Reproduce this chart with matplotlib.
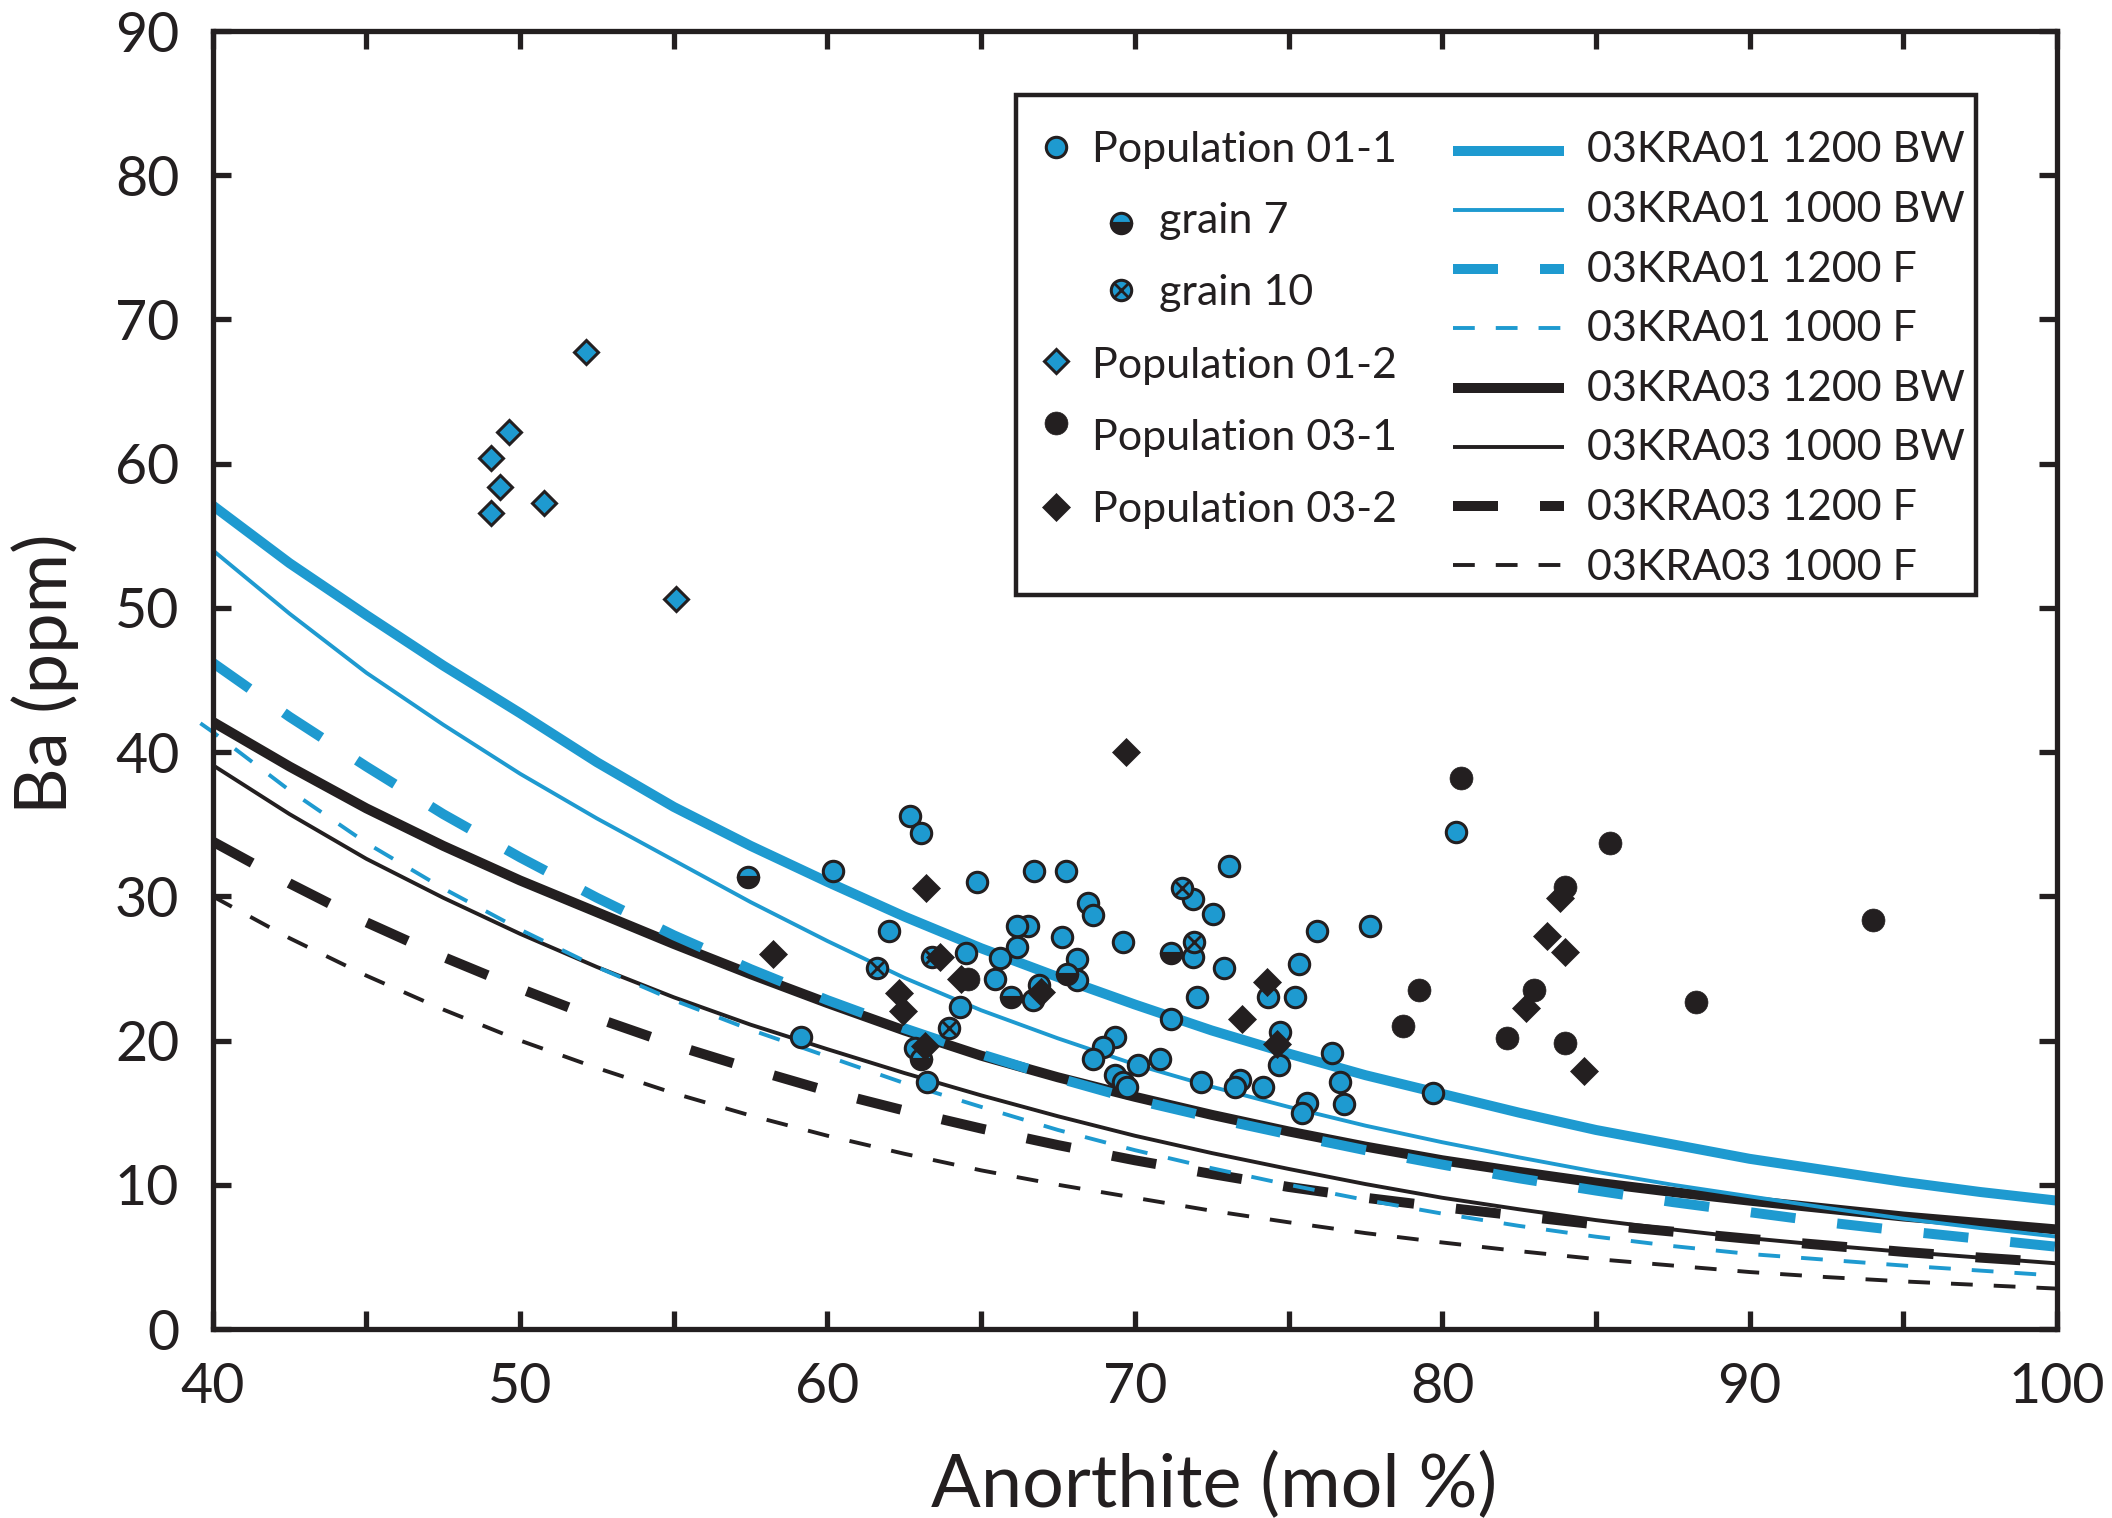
import numpy as np
import matplotlib
matplotlib.use('Agg')
import matplotlib.pyplot as plt
from matplotlib.patches import Rectangle

plt.rcParams['font.family'] = ['Lato', 'DejaVu Sans']

BLUE = '#1E9AD0'
BLACK = '#231F20'

an_grid = [40, 42.5, 45, 47.5, 50, 52.5, 55, 57.5, 60, 62.5, 65, 67.5, 70,
           72.5, 75, 77.5, 80, 82.5, 85, 87.5, 90, 92.5, 95, 97.5, 100]
kra01_1200_bw = [57.1, 53.1, 49.5, 46.0, 42.7, 39.3, 36.2, 33.5, 31.0, 28.6, 26.4, 24.4, 22.5,
                 20.7, 19.1, 17.6, 16.3, 15.0, 13.8, 12.8, 11.8, 11.0, 10.2, 9.5, 8.9]
kra01_1000_bw = [54.0, 49.6, 45.5, 41.9, 38.5, 35.4, 32.5, 29.6, 26.9, 24.35, 22.1, 20.15, 18.35,
                 16.8, 15.4, 14.1, 12.95, 11.9, 10.9, 10.0, 9.2, 8.4, 7.65, 7.0, 6.4]
kra01_1200_f = [46.2, 42.45, 39.0, 35.7, 32.7, 29.9, 27.3, 24.95, 22.8, 20.85, 19.05, 17.4, 15.9,
                14.65, 13.5, 12.4, 11.4, 10.45, 9.6, 8.8, 8.1, 7.4, 6.8, 6.25, 5.7]
kra01_1000_f_an = [39.6] + an_grid
kra01_1000_f = [42.0, 41.4, 37.35, 33.7, 30.55, 27.7, 25.1, 22.8, 20.75, 18.9, 17.05, 15.4, 13.8,
                12.4, 11.15, 10.0, 8.95, 8.0, 7.15, 6.4, 5.75, 5.2, 4.8, 4.4, 4.05, 3.7]
kra03_1200_bw = [42.1, 39.0, 36.1, 33.5, 31.1, 28.9, 26.7, 24.6, 22.6, 20.7, 18.95, 17.45, 16.1,
                 14.85, 13.7, 12.65, 11.7, 10.9, 10.15, 9.5, 8.9, 8.35, 7.8, 7.35, 6.9]
kra03_1000_bw = [39.1, 35.7, 32.6, 29.9, 27.4, 25.1, 23.0, 21.1, 19.4, 17.75, 16.2, 14.75, 13.4,
                 12.2, 11.1, 10.05, 9.1, 8.3, 7.55, 6.9, 6.3, 5.8, 5.35, 4.95, 4.55]
kra03_1200_f = [33.8, 30.9, 28.2, 25.8, 23.6, 21.55, 19.7, 18.05, 16.5, 15.15, 13.9, 12.75, 11.7,
                10.75, 9.85, 9.1, 8.45, 7.85, 7.25, 6.75, 6.25, 5.8, 5.35, 4.95, 4.6]
kra03_1000_f = [30.0, 27.1, 24.5, 22.15, 20.0, 18.1, 16.35, 14.8, 13.4, 12.15, 11.0, 10.0, 9.1,
                8.2, 7.4, 6.65, 6.0, 5.4, 4.85, 4.4, 3.95, 3.6, 3.3, 3.05, 2.8]

# Population 01-1
pop011_an = [62.68, 63.05, 60.17, 64.87, 66.71, 67.76, 68.46, 68.63, 61.99, 66.53,
             66.16, 67.62, 69.62, 66.16, 64.52, 65.61, 68.11, 68.11, 65.44, 66.7,
             66.89, 64.32, 59.15, 62.85, 63.23, 69.35, 68.97, 68.63, 70.11, 69.35,
             69.62, 69.73, 80.46, 73.07, 71.9, 72.53, 75.93, 77.65, 71.9, 72.89,
             75.34, 74.34, 75.21, 72.03, 71.18, 74.72, 74.7, 76.42, 70.82, 72.16,
             73.42, 73.26, 74.16, 76.66, 75.59, 75.43, 76.8, 79.71]
pop011_ba = [35.6, 34.4, 31.76, 30.98, 31.76, 31.76, 29.52, 28.71, 27.58, 27.97,
             27.97, 27.21, 26.84, 26.46, 26.05, 25.69, 25.66, 24.2, 24.27, 22.8,
             23.86, 22.3, 20.27, 19.51, 17.15, 20.27, 19.58, 18.72, 18.31, 17.61,
             17.15, 16.8, 34.44, 32.13, 29.82, 28.76, 27.6, 27.97, 25.82, 25.06,
             25.29, 23.05, 23.05, 23.05, 21.5, 20.57, 18.31, 19.12, 18.72, 17.15,
             17.27, 16.76, 16.76, 17.15, 15.7, 14.96, 15.6, 16.39]
grain7_an = [57.42, 67.79, 65.97, 63.05, 71.17]
grain7_ba = [31.37, 24.62, 23.05, 18.7, 26.05]
grain10_an = [61.62, 63.95, 71.53, 71.92, 63.40]
grain10_ba = [25.06, 20.9, 30.56, 26.84, 25.80]

# Population 01-2
pop012_an = [52.13, 49.64, 49.05, 49.35, 49.05, 50.77, 55.06]
pop012_ba = [67.73, 62.18, 60.36, 58.39, 56.61, 57.24, 50.65]

# Population 03-1
pop031_an = [64.57, 78.71, 79.25, 80.6, 82.12, 83.0, 84.01, 84.01, 85.47, 88.24, 94.0]
pop031_ba = [24.25, 21.03, 23.5, 38.2, 20.16, 23.5, 30.63, 19.86, 33.68, 22.7, 28.36]

# Population 03-2
pop032_an = [58.22, 62.34, 62.47, 63.19, 63.66, 63.17, 64.34, 66.95, 69.7, 73.47,
             74.31, 74.61, 82.71, 83.42, 83.82, 84.01, 84.61]
pop032_ba = [26.0, 23.33, 22.05, 30.56, 25.78, 19.65, 24.3, 23.4, 40.0, 21.48,
             24.09, 19.74, 22.24, 27.25, 29.87, 26.17, 17.92]

W, H = 2112, 1518
fig = plt.figure(figsize=(W / 100, H / 100), dpi=100)
X0, X1, YB, YT = 212.7, 2057.0, 1329.0, 31.0
ax = fig.add_axes([X0 / W, 1 - YB / H, (X1 - X0) / W, (YB - YT) / H])

THICK, THIN = 7.2, 2.8
line_styles = [
    (an_grid, kra03_1200_bw, BLACK, THICK, None, '03KRA03 1200 BW'),
    (an_grid, kra03_1000_bw, BLACK, THIN, None, '03KRA03 1000 BW'),
    (an_grid, kra03_1200_f, BLACK, THICK, (4.5, 4.2), '03KRA03 1200 F'),
    (an_grid, kra03_1000_f, BLACK, THIN, (5.6, 5.4), '03KRA03 1000 F'),
    (an_grid, kra01_1200_bw, BLUE, THICK, None, '03KRA01 1200 BW'),
    (an_grid, kra01_1000_bw, BLUE, THIN, None, '03KRA01 1000 BW'),
    (an_grid, kra01_1200_f, BLUE, THICK, (4.5, 4.2), '03KRA01 1200 F'),
    (kra01_1000_f_an, kra01_1000_f, BLUE, THIN, (5.6, 5.4), '03KRA01 1000 F'),
]
for xs, ys, c, lw, dash, lab in line_styles:
    ln, = ax.plot(xs, ys, color=c, lw=lw, solid_capstyle='butt', zorder=2)
    if dash is not None:
        ln.set_dashes(dash)
    if xs[0] < 40:
        ln.set_clip_on(False)

MS, MEW = 14.7, 2.2
circ = dict(marker='o', ms=MS, mec=BLACK, mew=MEW, ls='none')
ax.plot(pop011_an, pop011_ba, mfc=BLUE, zorder=4, **circ)
ax.plot(grain7_an, grain7_ba, mfc=BLUE, fillstyle='top', markerfacecoloralt=BLACK, zorder=5, **circ)
ax.plot(grain10_an, grain10_ba, mfc=BLUE, zorder=5, **circ)
ax.plot(grain10_an, grain10_ba, marker='x', ms=10.4, mew=2.0, color=BLACK, ls='none', zorder=5)
ax.plot(pop012_an, pop012_ba, marker='D', ms=12.2, mfc=BLUE, mec=BLACK, mew=2.2, ls='none', zorder=4)
ax.plot(pop031_an, pop031_ba, marker='o', ms=16.5, mfc=BLACK, mec=BLACK, mew=0.5, ls='none', zorder=6)
ax.plot(pop032_an, pop032_ba, marker='D', ms=13.8, mfc=BLACK, mec=BLACK, mew=0.5, ls='none', zorder=7)

ax.set_xlim(40, 100)
ax.set_ylim(0, 90)
xt = np.arange(40, 101, 5)
ax.set_xticks(xt)
ax.set_xticklabels([str(v) if v % 10 == 0 else '' for v in xt])
ax.set_yticks(np.arange(0, 91, 10))
ax.tick_params(direction='in', length=13, width=3.8, color=BLACK, top=True, right=True,
               labelsize=40, labelcolor=BLACK)
ax.tick_params(axis='y', pad=24)
ax.tick_params(axis='x', pad=24)
for sp in ax.spines.values():
    sp.set_linewidth(3.8)
    sp.set_color(BLACK)

fig.text(1214 / W, 1 - 1506.7 / H, 'Anorthite (mol %)', ha='center', va='baseline',
         fontsize=53, color=BLACK)
fig.text(45 / W, 1 - 674 / H, 'Ba (ppm)', rotation=90, ha='center', va='center',
         fontsize=52, color=BLACK)


# legend, laid out by hand (two columns of different row spacing)
def axc(fx, fy):
    return (fx - X0) / (X1 - X0), (YB - fy) / (YB - YT)


lx0, ly0 = axc(1016, 595)
lx1, ly1 = axc(1976, 95)
ax.add_patch(Rectangle((lx0, ly0), lx1 - lx0, ly1 - ly0, transform=ax.transAxes,
                       fc='white', ec=BLACK, lw=3.2, clip_on=False, zorder=10))
tr = ax.transAxes
LFS = 31

left_rows = [
    (1055.5, 146.7, 1092, 161.7, 'Population 01-1', dict(mfc=BLUE, **circ)),
    (1121, 223, 1159, 233.3, 'grain 7', dict(mfc=BLUE, fillstyle='top', markerfacecoloralt=BLACK, **circ)),
    (1121, 290, 1159, 305, 'grain 10', dict(mfc=BLUE, **circ)),
    (1055.5, 361, 1092, 378.3, 'Population 01-2', dict(marker='D', ms=12.2, mfc=BLUE, mec=BLACK, mew=2.2)),
    (1055.5, 423, 1092, 450, 'Population 03-1', dict(marker='o', ms=16.5, mfc=BLACK, mec=BLACK, mew=0.5)),
    (1055.5, 507, 1092, 521.7, 'Population 03-2', dict(marker='D', ms=13.8, mfc=BLACK, mec=BLACK, mew=0.5)),
]
for mx, my, tx, ty, lab, kw in left_rows:
    px, py = axc(mx, my)
    ax.plot([px], [py], transform=tr, clip_on=False, zorder=11, **kw)
    if lab == 'grain 10':
        ax.plot([px], [py], marker='x', ms=10.4, mew=2.0, color=BLACK, transform=tr,
                clip_on=False, zorder=12)
    qx, qy = axc(tx, ty)
    ax.text(qx, qy, lab, transform=tr, fontsize=LFS, va='baseline', ha='left',
            color=BLACK, zorder=11)

line_y = [151, 210, 269, 328, 388, 447, 506, 565]
text_y = [161.7, 221.7, 281.7, 340.7, 400.7, 460, 520, 580]
legend_order = [4, 5, 6, 7, 0, 1, 2, 3]
for k, idx in enumerate(legend_order):
    _, _, c, lw, dash, lab = line_styles[idx]
    ax0, ay = axc(1452.8, line_y[k])
    ax1, _ = axc(1564.4, line_y[k])
    ln, = ax.plot([ax0, ax1], [ay, ay], color=c, lw=lw, solid_capstyle='butt',
                  transform=tr, clip_on=False, zorder=11)
    if dash is not None:
        ln.set_dashes(dash)
    qx, qy = axc(1586.7, text_y[k])
    ax.text(qx, qy, lab, transform=tr, fontsize=LFS, va='baseline', ha='left',
            color=BLACK, zorder=11)

fig.savefig('out.png', dpi=100)
